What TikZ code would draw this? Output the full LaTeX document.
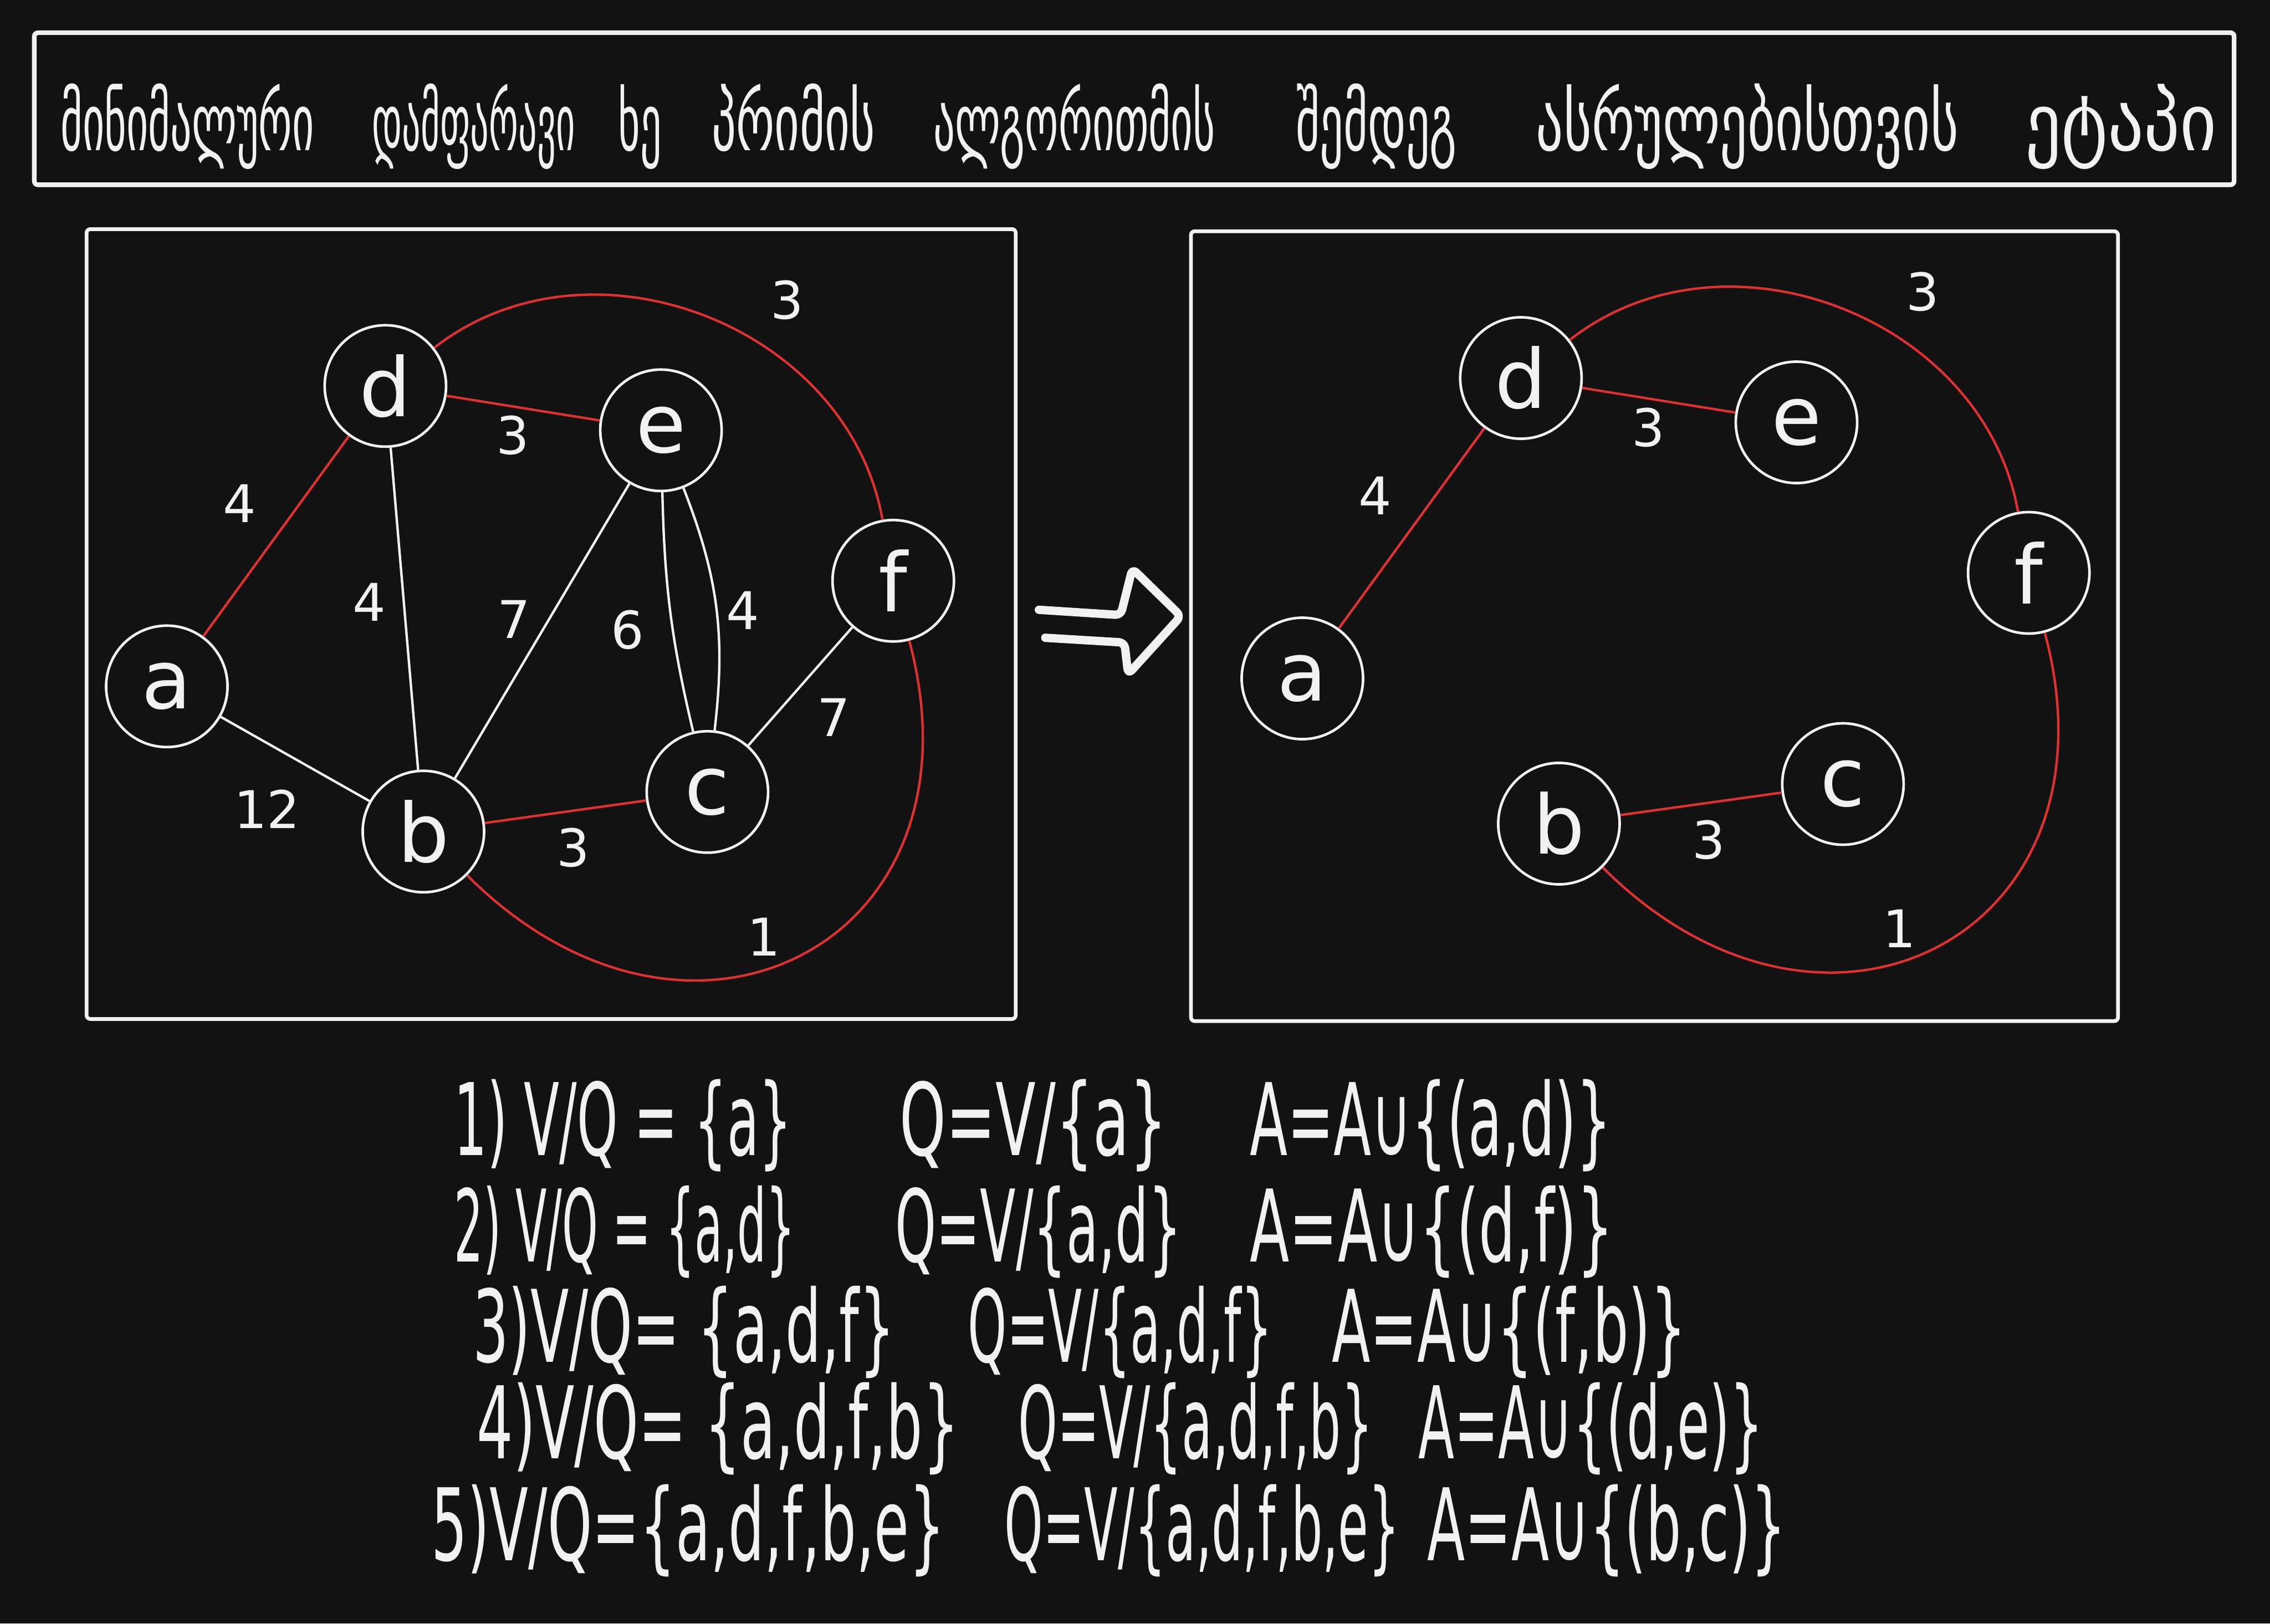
\documentclass[tikz,border=0pt]{standalone}
\usepackage{fontspec}
\setmainfont{DejaVu Sans}
\usepackage{graphicx}
\usetikzlibrary{arrows.meta}
\definecolor{BoardBg}{HTML}{121212}
\definecolor{ChalkWhite}{HTML}{F1F1F1}
\definecolor{MstRed}{HTML}{E03131}
\newcommand{\squeeze}[2]{\resizebox{#1cm}{\height}{#2}}

\begin{document}
\begin{tikzpicture}[
  vtx/.style={circle, draw=ChalkWhite, line width=1.4pt, minimum size=2.3cm, inner sep=0pt,
    text=ChalkWhite, font=\fontsize{44}{48}\selectfont},
  wt/.style={text=ChalkWhite, font=\fontsize{28}{32}\selectfont, inner sep=0pt},
  plain edge/.style={ChalkWhite, line width=1.3pt},
  tree edge/.style={MstRed, line width=1.3pt},
  frame/.style={ChalkWhite, line width=2pt, rounded corners=2pt},
  titleword/.style={text=ChalkWhite, font=\fontsize{43}{48}\selectfont, inner sep=0pt, anchor=base},
  stepline/.style={text=ChalkWhite, font=\fontsize{54}{60}\selectfont, inner sep=0pt, anchor=west}
]
% Board
\fill[BoardBg] (0,0) rectangle (43,-30.75);

% Title
\draw[frame, line width=2.5pt] (0.65,-0.62) rectangle (42.32,-3.50);
\foreach \tw/\tx/\tl [count=\i] in {
  მინიმალური/3.55/4.80,
  დამფარავი/8.97/3.84,
  ხე/12.12/0.82,
  პრიმის/15.03/3.09,
  ალგორითმის/20.35/5.34,
  შემდეგ/26.07/3.05,
  ასრულებისთვის/33.10/8.00,
  ეტაპი/40.18/3.63}
{
  \node[titleword] (t\i) at (\tx,-2.85) {\resizebox{\tl cm}{\height}{\tw}};
}

% Panels
\draw[frame] (1.64,-4.34) rectangle (19.24,-19.30);
\draw[frame] (22.56,-4.38) rectangle (40.12,-19.34);

% Vertices (left graph, then the same layout on the right)
\foreach \p/\dx/\dy in {L/0/0, R/21.51/0.15}
{
  \begin{scope}[shift={(\dx,\dy)}]
    \foreach \n/\x/\y in {a/3.16/-13.00, b/8.02/-15.75, c/13.40/-15.00,
                          d/7.30/-7.31, e/12.52/-8.15, f/16.92/-11.00}
      \node[vtx] (\p\n) at (\x,\y) {\n};
    % weights of the tree edges
    \node[wt] (\p wdf) at (14.91,-5.68) {3};
    \node[wt] (\p wde) at (9.71,-8.25) {3};
    \node[wt] (\p wad) at (4.54,-9.54) {4};
    \node[wt] (\p wbc) at (10.86,-16.06) {3};
    \node[wt] (\p wbf) at (14.47,-17.74) {1};
  \end{scope}
}

% Edges of the graph that are not in the tree
\draw[plain edge] (La) -- (Lb);
\draw[plain edge] (Ld) -- (Lb);
\draw[plain edge] (Le) -- (Lb);
\draw[plain edge] (Le) to[bend right=6] (Lc);
\draw[plain edge] (Le) to[bend left=14] (Lc);
\draw[plain edge] (Lf) -- (Lc);
\node[wt] (Lwdb) at (6.99,-11.40) {4};
\node[wt] (Lweb) at (9.74,-11.73) {7};
\node[wt] (Lwec) at (11.89,-11.93) {6};
\node[wt] (Lwec2) at (14.07,-11.56) {4};
\node[wt] (Lwfc) at (15.79,-13.59) {7};
\node[wt] (Lwab) at (5.06,-15.32) {12};

% Tree edges (red) in both panels
\foreach \p in {L,R}
{
  \draw[tree edge] (\p a) -- (\p d);
  \draw[tree edge] (\p d) -- (\p e);
  \draw[tree edge] (\p b) -- (\p c);
  \draw[tree edge] (\p d) to[out=38,in=100,looseness=1.05] (\p f);
  \draw[tree edge] (\p b) to[out=-45,in=-75,looseness=1.6] (\p f);
}

% Arrow between the panels
\draw[ChalkWhite, line width=4.5pt, line cap=round, line join=round, rounded corners=3pt]
  (19.68,-11.55) -- (21.23,-11.65) -- (21.45,-10.77) -- (22.37,-11.67)
  -- (21.37,-12.77) -- (21.30,-12.17) -- (19.80,-12.08);

% Steps of Prim
\node[stepline] (s1v) at (8.60,-21.32) {\squeeze{6.40}{1) V/Q = \{a\}}};
\node[stepline] (s1q) at (17.04,-21.32) {\squeeze{5.06}{Q=V/\{a\}}};
\node[stepline] (s1a) at (23.67,-21.32) {\squeeze{6.85}{A=A∪\{(a,d)\}}};

\node[stepline] (s2v) at (8.60,-23.33) {\squeeze{6.46}{2) V/Q = \{a,d\}}};
\node[stepline] (s2q) at (16.95,-23.33) {\squeeze{5.43}{Q=V/\{a,d\}}};
\node[stepline] (s2a) at (23.67,-23.33) {\squeeze{6.89}{A=A∪\{(d,f)\}}};

\node[stepline] (s3v) at (8.95,-25.23) {\squeeze{8.00}{3)V/Q= \{a,d,f\}}};
\node[stepline] (s3q) at (18.33,-25.23) {\squeeze{5.77}{Q=V/\{a,d,f\}}};
\node[stepline] (s3a) at (25.22,-25.23) {\squeeze{6.72}{A=A∪\{(f,b)\}}};

\node[stepline] (s4v) at (9.03,-27.06) {\squeeze{9.13}{4)V/Q= \{a,d,f,b\}}};
\node[stepline] (s4q) at (19.28,-27.06) {\squeeze{6.72}{Q=V/\{a,d,f,b\}}};
\node[stepline] (s4a) at (26.86,-27.06) {\squeeze{6.54}{A=A∪\{(d,e)\}}};

\node[stepline] (s5v) at (8.17,-28.99) {\squeeze{9.73}{5)V/Q=\{a,d,f,b,e\}}};
\node[stepline] (s5q) at (19.02,-28.99) {\squeeze{7.49}{Q=V/\{a,d,f,b,e\}}};
\node[stepline] (s5a) at (27.03,-28.99) {\squeeze{6.80}{A=A∪\{(b,c)\}}};
\end{tikzpicture}
\end{document}
